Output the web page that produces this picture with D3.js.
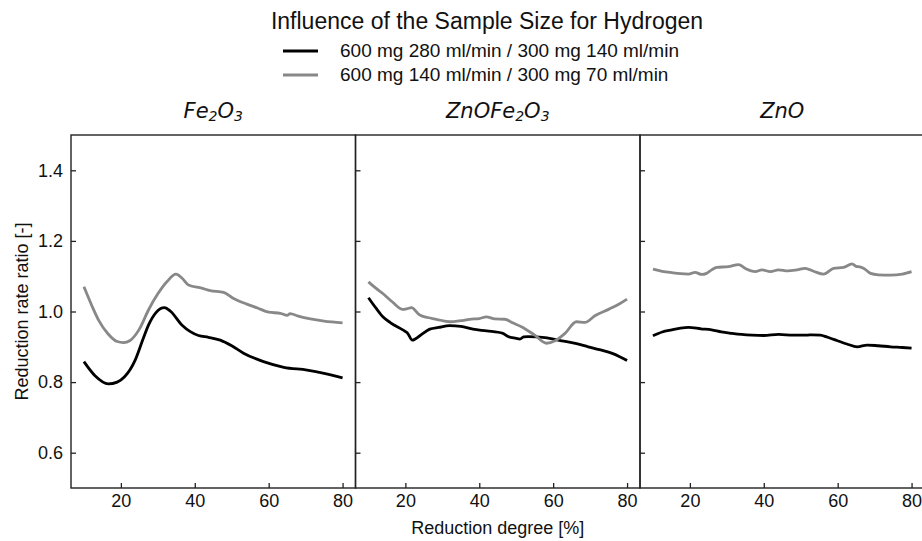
<!DOCTYPE html>
<html>
<head>
<meta charset="utf-8">
<script src="https://cdn.jsdelivr.net/npm/d3@7"></script>
<style>
  body { margin: 0; background: #fff; }
  text { font-family: "Liberation Sans", Arial, sans-serif; fill: #111; }
</style>
</head>
<body>
<svg id="chart" width="922" height="541"></svg>
<script>
// series (x = reduction degree %, y = ratio)
const fe2o3BlackX = [10, 13, 16.6, 19, 21, 23.9, 26, 27.5, 29.5, 31.8, 33.5, 36.5, 38.8, 41, 43.7, 46.9, 50, 53.2, 58.6, 64.1, 70.4, 75, 80];
const fe2o3BlackY = [0.858, 0.818, 0.795, 0.800, 0.815, 0.863, 0.922, 0.962, 0.997, 1.011, 1.000, 0.962, 0.943, 0.932, 0.927, 0.919, 0.903, 0.882, 0.858, 0.842, 0.834, 0.825, 0.812];
const fe2o3GrayX = [10, 12, 14, 16.5, 19, 20.7, 22.5, 25, 27.5, 30, 32.5, 34.9, 36.5, 38.3, 41.9, 44.2, 47.8, 50.5, 54.1, 57, 60, 63.2, 65, 65.8, 68, 71.3, 75, 80];
const fe2o3GrayY = [1.070, 1.020, 0.975, 0.937, 0.915, 0.912, 0.918, 0.950, 1.005, 1.050, 1.085, 1.106, 1.095, 1.075, 1.066, 1.059, 1.054, 1.037, 1.021, 1.010, 0.998, 0.995, 0.989, 0.994, 0.987, 0.979, 0.973, 0.968];

const mixBlackX = [10, 12, 13.9, 16, 19.3, 20.5, 21.9, 24, 26.6, 29, 32, 35, 38.3, 42, 46.4, 47.8, 50, 51, 52, 53.2, 57.8, 62.3, 66, 69.5, 72.5, 75.8, 78, 80];
const mixBlackY = [1.039, 1.010, 0.985, 0.968, 0.948, 0.940, 0.919, 0.932, 0.950, 0.955, 0.960, 0.958, 0.950, 0.945, 0.938, 0.929, 0.924, 0.922, 0.928, 0.929, 0.926, 0.917, 0.910, 0.900, 0.892, 0.882, 0.872, 0.861];
const mixGrayX = [10, 12, 13.9, 16.5, 19.3, 20.5, 21.6, 23.9, 26, 28.4, 32, 35, 37.4, 40, 41.9, 44.2, 46.9, 49, 51.4, 55, 58.2, 60.5, 63.2, 66.3, 68.6, 71.3, 75, 78, 80];
const mixGrayY = [1.084, 1.066, 1.051, 1.027, 1.006, 1.008, 1.011, 0.990, 0.983, 0.978, 0.971, 0.974, 0.978, 0.980, 0.985, 0.979, 0.978, 0.968, 0.957, 0.933, 0.910, 0.917, 0.938, 0.971, 0.969, 0.988, 1.006, 1.022, 1.035];

const znoBlackX = [10, 12.5, 15.1, 17.5, 19.6, 23, 25.9, 28.5, 31.4, 34, 36.8, 40, 44, 48, 51.7, 53, 55.3, 57, 58.9, 62.5, 65.3, 68, 71, 74.3, 77.5, 80];
const znoBlackY = [0.931, 0.942, 0.948, 0.953, 0.955, 0.951, 0.948, 0.942, 0.938, 0.935, 0.933, 0.932, 0.935, 0.933, 0.933, 0.934, 0.933, 0.928, 0.921, 0.908, 0.900, 0.905, 0.903, 0.900, 0.898, 0.896];
const znoGrayX = [10, 12.5, 15.1, 17.5, 19.6, 21.4, 23.2, 24.5, 25.9, 27.3, 30.4, 33.2, 35, 37.7, 39.5, 41.8, 44, 46.5, 49, 51.2, 53.5, 56.2, 58.9, 61.6, 63.9, 65, 65.7, 67.1, 68.9, 71, 74.3, 77.5, 80];
const znoGrayY = [1.120, 1.114, 1.110, 1.107, 1.106, 1.111, 1.105, 1.108, 1.118, 1.125, 1.127, 1.133, 1.122, 1.113, 1.118, 1.113, 1.118, 1.115, 1.118, 1.122, 1.114, 1.106, 1.122, 1.125, 1.135, 1.128, 1.127, 1.122, 1.108, 1.104, 1.103, 1.106, 1.113];

const legendLabels = ['600 mg 280 ml/min / 300 mg 140 ml/min', '600 mg 140 ml/min / 300 mg 70 ml/min'];
const xTicks = [20, 40, 60, 80];
const yTicks = [0.6, 0.8, 1.0, 1.2, 1.4];

const svg = d3.select('#chart');
const colors = ['#000000', '#888888'];

const margin = { top: 135, left: 71, bottom: 488 };
const panelWidth = 284.5;

const zip = (xs, ys) => xs.map((x, i) => ({ x, y: ys[i] }));

const panels = [
  { title: [['Fe', 0], ['2', 1], ['O', 0], ['3', 1]], series: [zip(fe2o3BlackX, fe2o3BlackY), zip(fe2o3GrayX, fe2o3GrayY)] },
  { title: [['ZnOFe', 0], ['2', 1], ['O', 0], ['3', 1]], series: [zip(mixBlackX, mixBlackY), zip(mixGrayX, mixGrayY)] },
  { title: [['ZnO', 0]], series: [zip(znoBlackX, znoBlackY), zip(znoGrayX, znoGrayY)] }
];

const yScale = d3.scaleLinear()
  .domain([0.5, 1.5])
  .range([margin.bottom, margin.top]);

panels.forEach((p, i) => {
  const left = margin.left + i * panelWidth;
  const xScale = d3.scaleLinear()
    .domain([6.5, 83.5])
    .range([left, left + panelWidth]);

  const g = svg.append('g');

  // x axis, ticks pointing inward
  const xAxisG = g.append('g')
    .attr('transform', `translate(0,${margin.bottom})`)
    .call(d3.axisBottom(xScale).tickValues(xTicks).tickFormat(d3.format('d'))
      .tickSizeInner(-5).tickSizeOuter(0).tickPadding(6));
  xAxisG.select('.domain').remove();
  xAxisG.selectAll('.tick line').attr('stroke', '#222').attr('stroke-width', 1.3);
  xAxisG.selectAll('.tick text').attr('font-size', 18).attr('fill', '#111')
    .style('font-family', '"Liberation Sans", Arial, sans-serif');

  // y axis on the left spine of each panel
  const yAxisG = g.append('g')
    .attr('transform', `translate(${left},0)`)
    .call(d3.axisLeft(yScale).tickValues(yTicks)
      .tickFormat(i === 0 ? d3.format('.1f') : '')
      .tickSizeInner(-5).tickSizeOuter(0).tickPadding(8));
  yAxisG.select('.domain').remove();
  yAxisG.selectAll('.tick line').attr('stroke', '#222').attr('stroke-width', 1.3);
  yAxisG.selectAll('.tick text').attr('font-size', 18).attr('fill', '#111')
    .style('font-family', '"Liberation Sans", Arial, sans-serif');

  const line = d3.line()
    .x(d => xScale(d.x))
    .y(d => yScale(d.y))
    .curve(d3.curveMonotoneX);

  g.selectAll('path.series').data(p.series)
    .enter().append('path')
      .attr('class', 'series')
      .attr('d', line)
      .attr('fill', 'none')
      .attr('stroke', (d, k) => colors[k])
      .attr('stroke-width', 2.8)
      .attr('stroke-linejoin', 'round');

  // frame
  g.append('rect')
    .attr('x', left)
    .attr('y', margin.top)
    .attr('width', panelWidth)
    .attr('height', margin.bottom - margin.top)
    .attr('fill', 'none')
    .attr('stroke', '#222')
    .attr('stroke-width', 1.4);

  // panel title with subscripts
  const t = g.append('text')
    .attr('x', left + panelWidth / 2)
    .attr('y', 118)
    .attr('text-anchor', 'middle')
    .attr('font-size', 21)
    .style('font-family', '"DejaVu Sans", sans-serif')
    .style('font-style', 'italic');
  p.title.forEach(([s, sub]) => {
    const ts = t.append('tspan').text(s);
    if (sub) ts.attr('font-size', 14).attr('baseline-shift', '-3');
  });
});

// title
svg.append('text')
  .attr('x', 487)
  .attr('y', 29)
  .attr('text-anchor', 'middle')
  .attr('font-size', 23)
  .text('Influence of the Sample Size for Hydrogen');

// legend
legendLabels.forEach((label, i) => {
  const y = 51 + i * 24;
  svg.append('line')
    .attr('x1', 283).attr('x2', 318)
    .attr('y1', y).attr('y2', y)
    .attr('stroke', colors[i])
    .attr('stroke-width', 2.8);
  svg.append('text')
    .attr('x', 340)
    .attr('y', y + 6)
    .attr('font-size', 19)
    .text(label);
});

// axis labels
svg.append('text')
  .attr('transform', `translate(28,${(margin.top + margin.bottom) / 2}) rotate(-90)`)
  .attr('text-anchor', 'middle')
  .attr('font-size', 18)
  .text('Reduction rate ratio [-]');

svg.append('text')
  .attr('x', margin.left + panelWidth * 1.5)
  .attr('y', 534)
  .attr('text-anchor', 'middle')
  .attr('font-size', 18)
  .text('Reduction degree [%]');
</script>
</body>
</html>
